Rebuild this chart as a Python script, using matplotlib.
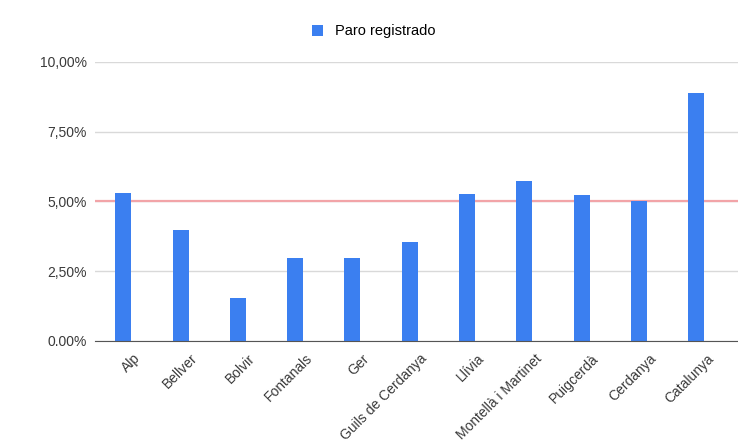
import matplotlib.pyplot as plt
from matplotlib.ticker import FixedLocator
from matplotlib.transforms import ScaledTranslation

# Paro registrado por municipio (%)
municipios = ['Alp', 'Bellver', 'Bolvir', 'Fontanals', 'Ger', 'Guils de Cerdanya',
              'Llívia', 'Montellà i Martinet', 'Puigcerdà', 'Cerdanya', 'Catalunya']
paro = [5.30, 3.98, 1.54, 2.97, 2.97, 3.55, 5.27, 5.73, 5.23, 5.02, 8.89]
referencia = 5.0
yticks = [0, 2.5, 5, 7.5, 10]
ytick_labels = ['0.00%', '2,50%', '5,00%', '7,50%', '10,00%']

plt.rcParams['font.family'] = ['Liberation Sans', 'DejaVu Sans']

fig = plt.figure(figsize=(7.38, 4.48), dpi=100)
ax = fig.add_axes([0.129, 0.239, 0.871, 0.623])

x = range(len(municipios))
ax.bar(x, paro, width=0.28, color='#3b7ff0', zorder=3, label='Paro registrado')
ax.axhline(referencia, color='#f2a4a8', lw=1.6, zorder=2)

ax.set_ylim(0, 10)
ax.set_xlim(-0.49, 10.73)
ax.yaxis.set_major_locator(FixedLocator(yticks))
ax.set_yticklabels(ytick_labels, fontsize=10, color='#3a3a3a')
ax.grid(axis='y', color='#d9d9d9', lw=1, zorder=0)

ax.set_xticks(list(x))
ax.set_xticklabels(municipios, rotation=45, ha='right', va='center',
                   rotation_mode='anchor', fontsize=10, color='#3a3a3a')
ax.tick_params(axis='y', length=0, pad=6)
ax.tick_params(axis='x', length=0, pad=11)
# shift rotated labels so their ends sit right of the bar
shift = ScaledTranslation(15 / 100, 0, fig.dpi_scale_trans)
for lbl in ax.get_xticklabels():
    lbl.set_transform(lbl.get_transform() + shift)

for s in ['top', 'right', 'left']:
    ax.spines[s].set_visible(False)
ax.spines['bottom'].set_color('#555555')
ax.spines['bottom'].set_zorder(4)

fig.legend(loc='center', bbox_to_anchor=(0.506, 0.93), frameon=False, fontsize=10.5,
           handlelength=0.8, handleheight=0.8, handletextpad=0.8)

fig.savefig('out.png', dpi=100)
